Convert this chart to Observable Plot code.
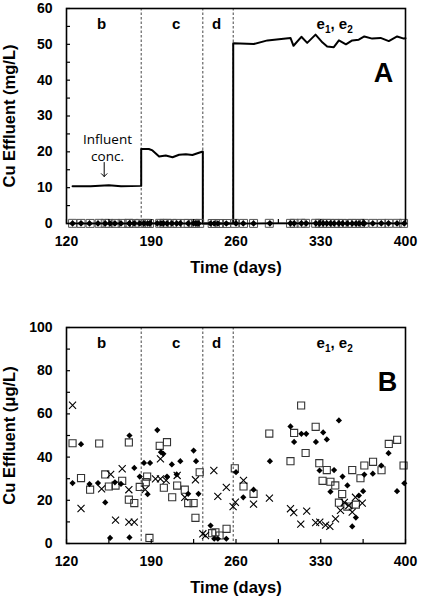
<!DOCTYPE html>
<html><head><meta charset="utf-8">
<script src="https://cdn.jsdelivr.net/npm/d3@7"></script>
<script src="https://cdn.jsdelivr.net/npm/@observablehq/plot@0.6"></script>
<style>body{margin:0;background:#fff} #c{width:421px} svg{display:block}</style>
</head><body><div id="c"></div>
<script>
// ---- data ----
const phaseLabels = ["b", "c", "d", "e1, e2"];
const phaseDays = [149, 210.5, 244, 341.5];
const phaseBoundaries = [181.7, 232.6, 257.7];
const xTicks = [120, 190, 260, 330, 400];
const xMinorTicks = [155, 225, 295, 365];
const yTicksA = [0, 10, 20, 30, 40, 50, 60];
const yMinorA = [5, 15, 25, 35, 45, 55];
const yTicksB = [0, 20, 40, 60, 80, 100];
const yMinorB = [10, 30, 50, 70, 90];
const annotationLines = ["Influent", "conc."];

// Panel A: influent concentration (mg/L)
const influentDay = [125,140,155,165,181.7,181.7,188,191,196.5,202,207.6,213,218.6,224,228.2,232.6,232.6,257.7,257.7,274.7,286,305,307.5,314,318.8,325.7,331.5,335.3,340.8,345,350.8,356,361.4,366,372.5,379.4,386.2,393.1,398.6,400];
const influentConc = [10.4,10.4,10.7,10.4,10.5,20.8,20.8,20.4,18.7,19.0,18.5,19.2,19.3,19.1,19.6,20.1,0,0,50.3,50.1,51.1,51.8,49.6,52.1,50.4,52.7,50.5,49.4,49.2,51.1,50,51.1,51.3,52.2,51.6,51.8,50.9,52.2,51.6,51.7];

// Effluent Cu (ug/L), three series
const diamondDay = [125,132,139,146,152,156,160,165,172,172,176,180.5,184,187,189,195,198,200,203,207,211,214,220.5,225,227,229,239,242,245,252,260,266,274.5,288,305,308,314,318,326,329,332,335,338,341,345,348,352,356,359,361.5,365,366,373,380,386,393,399];
const diamondCu = [28,46,27.5,28,19,2.6,28.3,27.6,50,2.8,35,31,37.3,22.8,37.3,52.5,42.3,41.5,31,36.6,32,38.1,23,43,38.1,23,8.3,2.2,2.2,2.2,33,21.4,24.9,38.1,54.2,47,50.8,50.8,47,33.8,51.4,48.2,24,34,57,31,26.9,7.9,12,22.2,24.2,31.9,32.3,36.1,41.8,24.2,27.9];
const squareDay = [125,132,139.5,147,152,155,160.5,166,171.5,171.5,176,180.5,185.5,186.6,188.5,197,200.4,203,207.3,211.4,217.7,220.5,225,226.5,230,240.3,243,246.4,252.2,259,266.2,274.5,287.5,305,308,313.8,317.5,325.8,328.8,331.5,335,338,342,345,347.7,352,356,359,362.8,366,373.2,380.2,386.2,393.1,398.4];
const squareCu = [46.4,30.3,24.9,46.3,32,26.4,26.8,29,46.8,20.3,18.7,26.2,28.4,31,2.6,45.2,25.8,46.9,21.4,26.8,24.9,18.7,18.7,11.9,33,4.8,5.2,3.7,6.8,34.8,26.4,23,50.9,38.1,51.2,63.9,41.9,54,37.2,29,34,28.6,26.9,18.9,22.9,17.1,34,18,30.2,36.1,37.8,33.9,46.1,48,36.1];
const crossDay = [125,132,149,156.5,160.5,166,171.5,171.5,176,185,193.5,197.6,197.6,202.3,211.4,217.7,226.5,232.6,234.8,241.7,245,252,257.6,259.5,266.2,274.5,287.6,305,307.7,313.5,318.4,325.8,329.2,334,337.5,342.2,346.3,349.5,353.2,356,358.7,364.3];
const crossCu = [64,16.2,25.3,32,10.8,34.6,24.9,9.9,9.9,25,29.9,29.9,39.2,29.2,31.5,21.4,29.5,4.5,3.7,33.8,21.8,26,17.1,19.1,29.2,18.2,21,16.1,14.3,9,15,9.7,9.9,8.5,7.9,11.4,15.3,19,17.6,14.5,21.4,18.7];

// ---- tables ----
const influent = influentDay.map((d, i) => ({day: d, conc: influentConc[i]}));
const diamonds = diamondDay.map((d, i) => ({day: d, cu: diamondCu[i], mg: diamondCu[i] / 1000}));
const squares = squareDay.map((d, i) => ({day: d, cu: squareCu[i], mg: squareCu[i] / 1000}));
const crosses = crossDay.map((d, i) => ({day: d, cu: crossCu[i]}));

const W = 421, H = 300, ML = 66, MR = 16;
const FONT = "'Liberation Sans', Arial, sans-serif";

function panel({mt, mb, ymax, yTicks, yMinor, ylabel, letter, letterDx, letterDy, phaseDy, marks}) {
  const ph = H - mt - mb, pw = W - ML - MR;
  return Plot.plot({
    width: W, height: H,
    marginLeft: ML, marginRight: MR, marginTop: mt, marginBottom: mb,
    style: {fontFamily: FONT, fontSize: "14px", fontWeight: "bold", background: "white", color: "black", overflow: "visible"},
    x: {domain: [120, 400]},
    y: {domain: [0, ymax]},
    marks: [
      Plot.ruleX(phaseBoundaries, {stroke: "#444", strokeWidth: 1, strokeDasharray: "2.5,2"}),
      ...marks,
      Plot.ruleX([...xTicks, ...xMinorTicks], {insetTop: ph - 4, stroke: "black", strokeWidth: 1.2}),
      Plot.ruleY([...yTicks, ...yMinor], {insetRight: pw - 4, stroke: "black", strokeWidth: 1.2}),
      Plot.frame({stroke: "black", strokeWidth: 1.6}),
      Plot.axisX(xTicks, {tickSize: 0, tickPadding: 13, label: null}),
      Plot.axisY(yTicks, {tickSize: 0, tickPadding: 14, label: null}),
      Plot.text(["Time (days)"], {text: d => d, frameAnchor: "bottom", dy: 44, fontSize: 16.5, textAnchor: "middle", lineAnchor: "middle"}),
      Plot.text([ylabel], {text: d => d, frameAnchor: "left", dx: -57, rotate: -90, fontSize: 16.5, textAnchor: "middle", lineAnchor: "middle"}),
      Plot.text(phaseLabels, {text: d => d, x: phaseDays, frameAnchor: "top", dy: phaseDy, fontSize: 15, lineAnchor: "middle"}),
      Plot.text([letter], {text: d => d, frameAnchor: "top-right", dx: letterDx, dy: letterDy, fontSize: 27, textAnchor: "middle", lineAnchor: "middle"})
    ]
  });
}

const annoStyle = {frameAnchor: "top-left", dx: 41, fontFamily: "'Open Sans', sans-serif", fontWeight: "normal", fontSize: 13.5, textAnchor: "middle", lineAnchor: "bottom"};

const panelA = panel({
  mt: 8, mb: 77, ymax: 60, yTicks: yTicksA, yMinor: yMinorA,
  ylabel: "Cu Effluent (mg/L)", letter: "A", letterDx: -22, letterDy: 65, phaseDy: 15.5,
  marks: [
    Plot.line(influent, {x: "day", y: "conc", stroke: "black", strokeWidth: 2}),
    Plot.line(squares, {x: "day", y: "mg", stroke: "black", strokeWidth: 1.5}),
    Plot.dot(squares, {x: "day", y: "mg", symbol: "square", r: 4.5, stroke: "#555", strokeWidth: 1, fill: "none"}),
    Plot.dot(diamonds, {x: "day", y: "mg", symbol: "diamond2", r: 3, fill: "black"}),
    Plot.text([annotationLines[0]], {...annoStyle, text: d => d, dy: 135}),
    Plot.text([annotationLines[1]], {...annoStyle, text: d => d, dy: 152}),
    Plot.vector([0], {frameAnchor: "top-left", dx: 37.7, dy: 154, length: 14, rotate: 180, anchor: "start", stroke: "black", strokeWidth: 1})
  ]
});

const panelB = panel({
  mt: 27, mb: 57, ymax: 100, yTicks: yTicksB, yMinor: yMinorB,
  ylabel: "Cu Effluent (\u03bcg/L)", letter: "B", letterDx: -18, letterDy: 54.7, phaseDy: 16,
  marks: [
    Plot.dot(squares, {x: "day", y: "cu", symbol: "square", r: 4, stroke: "#333", strokeWidth: 1.1, fill: "none"}),
    Plot.dot(crosses, {x: "day", y: "cu", symbol: "times", r: 3.3, stroke: "black", strokeWidth: 1.1}),
    Plot.dot(diamonds, {x: "day", y: "cu", symbol: "diamond2", r: 2.8, fill: "black"})
  ]
});

const container = document.getElementById("c");
container.appendChild(panelA);
container.appendChild(panelB);

// subscripts for e1, e2
document.querySelectorAll("svg text").forEach(t => {
  if (t.textContent === "e1, e2") {
    t.innerHTML = 'e<tspan dy="4" font-size="10">1</tspan><tspan dy="-4">, e</tspan><tspan dy="4" font-size="10">2</tspan>';
  }
});
</script>
</body></html>
